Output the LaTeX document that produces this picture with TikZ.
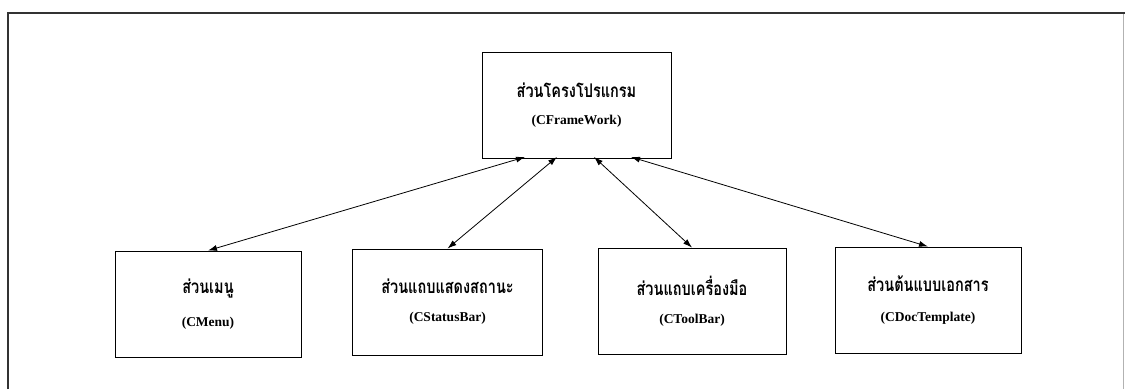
\documentclass[tikz,border=0pt]{standalone}
\usepackage{fontspec}
\setmainfont{Liberation Serif}
\newfontfamily\thaifont[Script=Thai]{Loma}
\usetikzlibrary{arrows.meta}
\newcommand{\thtxt}[1]{\scalebox{1}[1.3]{\thaifont\bfseries\fontsize{14.5}{18}\selectfont #1}}
\newcommand{\latxt}[1]{{\bfseries\fontsize{13.5}{16}\selectfont #1}}
\begin{document}
\begin{tikzpicture}[x=1pt,y=-1pt,
  box/.style={draw, line width=0.9pt, minimum width=#1, minimum height=106pt, inner sep=0pt, align=center},
  link/.style={line width=0.8pt, {Latex[length=9pt,width=6pt]}-{Latex[length=9pt,width=6pt]}},
  frame/.style={line width=2.4pt, draw=black!80},
  edge/.style={line width=0.8pt, draw=black!30}]
\useasboundingbox (0,0) rectangle (1125,389);
\fill[white] (0,0) rectangle (1125,389);
\coordinate (fl) at (8,389);
\coordinate (ftl) at (8,13);
\coordinate (ftr) at (1125,13);
\coordinate (frt) at (1123,14);
\coordinate (frb) at (1123,389);
\draw[frame] (fl) -- (ftl) -- (ftr);
\draw[edge] (frt) -- (frb);
\node[box=189pt] (top) at (576.5,105) {\thtxt{ส่วนโครงโปรแกรม}\\[15pt]\latxt{(CFrameWork)}};
\node[box=186pt] (b1) at (208,304) {\thtxt{ส่วนเมนู}\\[18pt]\latxt{(CMenu)}};
\node[box=190pt] (b2) at (447.5,302) {\thtxt{ส่วนแถบแสดงสถานะ}\\[16pt]\latxt{(CStatusBar)}};
\node[box=188pt] (b3) at (692,301) {\thtxt{ส่วนแถบเครื่องมือ}\\[16pt]\latxt{(CToolBar)}};
\node[box=186pt] (b4) at (928,300) {\thtxt{ส่วนต้นแบบเอกสาร}\\[18pt]\latxt{(CDocTemplate)}};
\coordinate (t1) at (525,157);
\coordinate (t2) at (557,157);
\coordinate (t3) at (594,157);
\coordinate (t4) at (631,157);
\draw[link] (b1.north) -- (t1);
\draw[link] (b2.north) -- (t2);
\draw[link] (b3.north) -- (t3);
\draw[link] (b4.north) -- (t4);
\end{tikzpicture}
\end{document}
